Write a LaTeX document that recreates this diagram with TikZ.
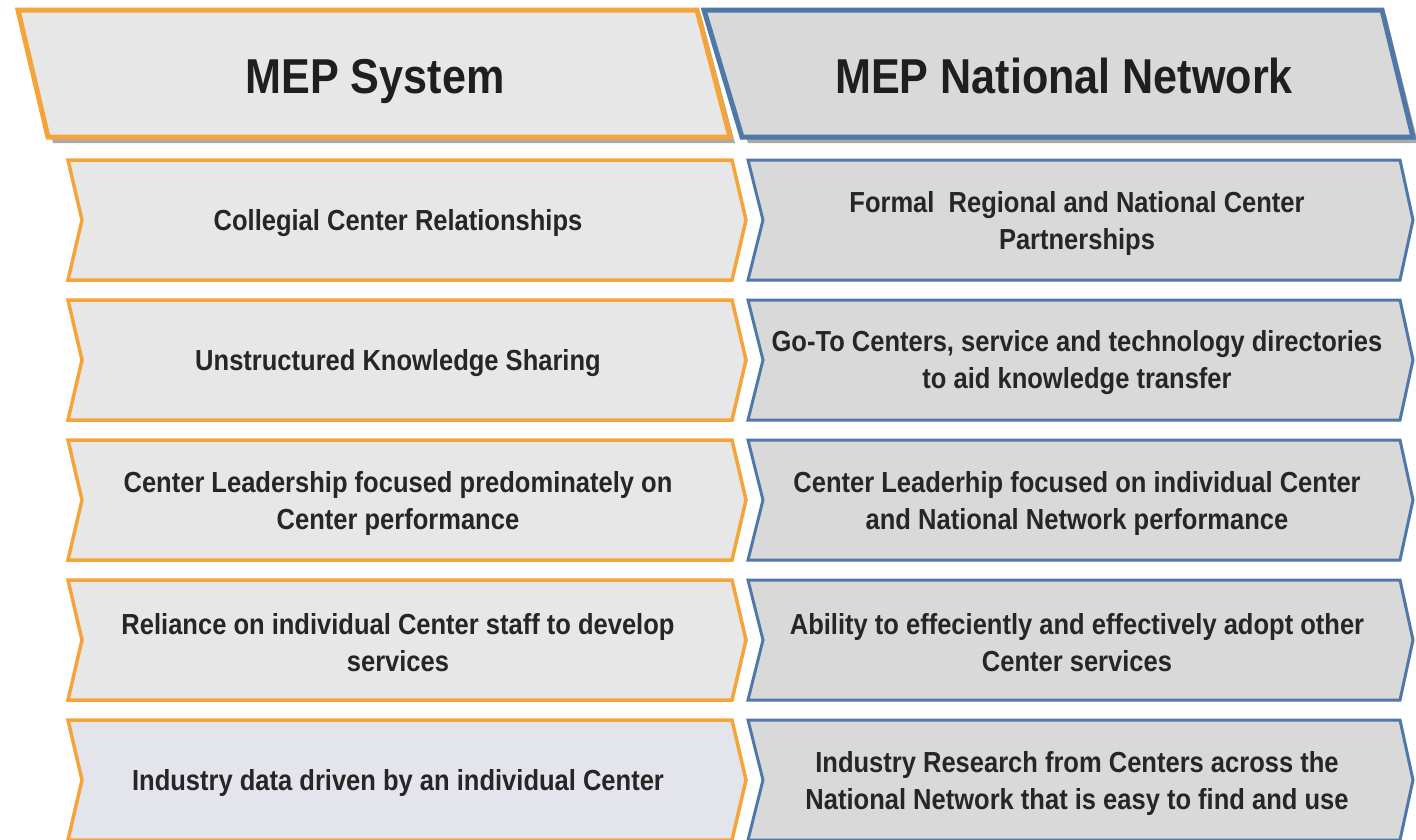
\documentclass[tikz,border=0pt]{standalone}
\usepackage{fontspec}
\setmainfont{Liberation Sans}[FakeStretch=0.88]
\definecolor{mepOrange}{HTML}{F5A43A}
\definecolor{mepBlue}{HTML}{4F78A8}
\definecolor{sysFill}{HTML}{E7E7E7}
\definecolor{sysFillLast}{HTML}{E4E4EC}
\definecolor{netFill}{HTML}{D9D9D9}
\definecolor{headShadow}{HTML}{A9A9A9}
\tikzset{
  sysbox/.style={draw=mepOrange, line width=3.5pt},
  netbox/.style={draw=mepBlue, fill=netFill, line width=3pt},
  headtext/.style={font=\fontsize{49}{56}\selectfont\bfseries, text=black!88, anchor=base},
  rowtext/.style={font=\fontsize{29}{37}\selectfont\bfseries, text=black!85, align=center},
}

\begin{document}
\begin{tikzpicture}[x=1pt,y=-1pt]
	% Page size of the reference
	\useasboundingbox (0,0) rectangle (1416,839);
	
	% Headers with their shadows
	\fill[headShadow] (21,15)--(701,15)--(735,143)--(53,143)--cycle;
	\fill[headShadow] (707,15)--(1386,15)--(1418,143)--(748,143)--cycle;
	\draw[sysbox, fill=sysFill, line width=5pt] (18,10)--(697,10)--(730,137)--(48,137)--cycle;
	\draw[netbox, line width=5pt] (704,10)--(1382,10)--(1413,137)--(742,137)--cycle;
	\node[headtext] (sysHead) at (375,93) {MEP System};
	\node[headtext] (netHead) at (1064,93) {MEP National Network};
	
	% One row of chevrons per comparison
	\foreach \t/\lfill/\ltxt/\rtxt [count=\i] in {
		160/sysFill/{Collegial Center Relationships}/{Formal\ \ Regional and National Center\\Partnerships},
		300/sysFill/{Unstructured Knowledge Sharing}/{Go-To Centers, service and technology directories\\to aid knowledge transfer},
		440/sysFill/{Center Leadership focused predominately on\\Center performance}/{Center Leaderhip focused on individual Center\\and National Network performance},
		580/sysFill/{Reliance on individual Center staff to develop\\services}/{Ability to effeciently and effectively adopt other\\Center services},
		720/sysFillLast/{Industry data driven by an individual Center}/{Industry Research from Centers across the\\National Network that is easy to find and use}}
	{
		\draw[sysbox, fill=\lfill] (68,\t) -- (732,\t) -- (746,\t+60) -- (732,\t+120) -- (68,\t+120) -- (82,\t+60) -- cycle;
		\draw[netbox] (748,\t) -- (1400,\t) -- (1413,\t+60) -- (1400,\t+120) -- (748,\t+120) -- (763,\t+60) -- cycle;
		\node[rowtext] (sys\i) at (398,\t+63) {\ltxt};
		\node[rowtext] (net\i) at (1077,\t+63) {\rtxt};
	}
\end{tikzpicture}
\end{document}
